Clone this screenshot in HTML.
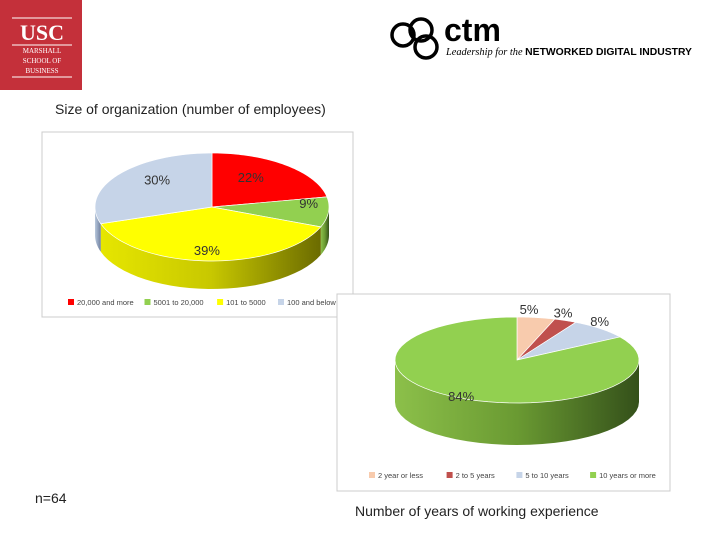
<!DOCTYPE html>
<html><head><meta charset="utf-8"><style>
body{margin:0;width:720px;height:540px;background:#fff;position:relative;overflow:hidden;font-family:"Liberation Sans",sans-serif}
.t{position:absolute;font-size:14px;color:#222}
</style></head><body>
<svg width="720" height="540" style="position:absolute;left:0;top:0">
<defs>
<linearGradient id="gy" x1="0" x2="1"><stop offset="0" stop-color="#e6e600"/><stop offset="0.5" stop-color="#c8c800"/><stop offset="1" stop-color="#6b6b00"/></linearGradient>
<linearGradient id="gg" x1="0" x2="1"><stop offset="0" stop-color="#8cc04a"/><stop offset="0.5" stop-color="#6a9a32"/><stop offset="1" stop-color="#34501a"/></linearGradient>
<linearGradient id="gb" x1="0" x2="1"><stop offset="0" stop-color="#b8c8dc"/><stop offset="1" stop-color="#7080a0"/></linearGradient>
<linearGradient id="gr" x1="0" x2="1"><stop offset="0" stop-color="#d00"/><stop offset="1" stop-color="#800"/></linearGradient>
</defs>
<g>
<rect x="0" y="0" width="82" height="90" fill="#c4303a"/>
<line x1="12" y1="18" x2="72" y2="18" stroke="#fff" stroke-width="1"/>
<text x="42" y="40" font-family="Liberation Serif" font-size="22" font-weight="bold" fill="#fff" text-anchor="middle">USC</text>
<line x1="12" y1="45" x2="72" y2="45" stroke="#fff"/>
<text x="42" y="53" font-family="Liberation Serif" font-size="7" fill="#fff" text-anchor="middle">MARSHALL</text>
<text x="42" y="63" font-family="Liberation Serif" font-size="7" fill="#fff" text-anchor="middle">SCHOOL OF</text>
<text x="42" y="73" font-family="Liberation Serif" font-size="7" fill="#fff" text-anchor="middle">BUSINESS</text>
<line x1="12" y1="77" x2="72" y2="77" stroke="#fff"/>
</g>
<g>
<circle cx="403" cy="35" r="11" fill="none" stroke="#000" stroke-width="3.5"/>
<circle cx="421" cy="30" r="11" fill="none" stroke="#000" stroke-width="3.5"/>
<circle cx="426" cy="47" r="11" fill="none" stroke="#000" stroke-width="3.5"/>
<text x="444" y="41" font-size="32" font-weight="bold" fill="#000">ctm</text>
<text x="446" y="55" font-size="10" font-family="Liberation Serif" font-style="italic" fill="#000" textLength="246" lengthAdjust="spacingAndGlyphs">Leadership for the <tspan font-family="Liberation Sans" font-style="normal" font-weight="bold" font-size="10">NETWORKED DIGITAL INDUSTRY</tspan></text>
</g>
<rect x="42" y="132" width="311" height="185" fill="#fff" stroke="#ccc"/>
<rect x="337" y="294" width="333" height="197" fill="#fff" stroke="#ccc"/>
<g id="c1"></g><g id="c2"></g>
</svg>
<div class="t" style="left:55px;top:101px">Size of organization (number of employees)</div>
<div class="t" style="left:35px;top:490px">n=64</div>
<div class="t" style="left:355px;top:503px">Number of years of working experience</div>
<script>
const cats1=["20,000 and more","5001 to 20,000","101 to 5000","100 and below"];
const vals1=[22,9,39,30];
const cats2=["2 year or less","2 to 5 years","5 to 10 years","10 years or more"];
const vals2=[5,3,8,84];
const NS="http://www.w3.org/2000/svg";
function mk(t,a,p){const e=document.createElementNS(NS,t);for(const k in a)e.setAttribute(k,a[k]);p.appendChild(e);return e;}
function pie(g,vals,cats,o){
  const tot=vals.reduce((a,b)=>a+b,0);
  const P=(th,dy)=>[o.cx+o.rx*Math.sin(th),o.cy-o.ry*Math.cos(th)+(dy||0)];
  let a=0;const sl=[];
  vals.forEach(v=>{const b=a+v/tot*2*Math.PI;sl.push([a,b]);a=b;});
  sl.forEach(([s,e],i)=>{
    const s2=Math.max(s,Math.PI/2),e2=Math.min(e,3*Math.PI/2);
    if(e2>s2){
      let d="";const n=30;
      for(let k=0;k<=n;k++){const p=P(s2+(e2-s2)*k/n);d+=(k?"L":"M")+p[0]+","+p[1];}
      for(let k=n;k>=0;k--){const p=P(s2+(e2-s2)*k/n,o.dep);d+="L"+p[0]+","+p[1];}
      const side=mk("path",{d:d+"Z",fill:o.side[i]},g);
      
      
    }
  });
  sl.forEach(([s,e],i)=>{
    let d="M"+o.cx+","+o.cy;const n=60;
    for(let k=0;k<=n;k++){const p=P(s+(e-s)*k/n);d+="L"+p[0]+","+p[1];}
    const el=mk("path",{d:d+"Z",fill:o.col[i],stroke:"#fff","stroke-width":"0.7"},g);
    
    
    const m=(s+e)/2,p=[o.cx+o.rx*o.fx[i]*Math.sin(m),o.cy-o.ry*o.fy[i]*Math.cos(m)];
    const t=mk("text",{x:p[0],y:p[1]+5,"text-anchor":"middle","font-size":o.fs,fill:"#333"},g);
    t.textContent=vals[i]+"%";
    
    
  });
  let x=o.lx;
  cats.forEach((c,i)=>{
    const r=mk("rect",{x:x,y:o.ly-5,width:6,height:6,fill:o.col[i]},g);
    
    
    const t=mk("text",{x:x+9,y:o.ly+1,"font-size":"7.5",fill:"#444"},g);
    t.textContent=c;
    
    
    x+=9+c.length*3.9+o.gap;
  });
}
pie(document.getElementById("c1"),vals1,cats1,{cx:212,cy:207,rx:117,ry:54,dep:28,
 col:["#ff0000","#92d050","#ffff00","#c6d4e8"],side:["url(#gr)","url(#gg)","url(#gy)","url(#gb)"],
 fx:[0.52,0.83,1.38,0.58],fy:[0.72,-0.8,0.8,0.86],fs:13,lx:68,ly:304,gap:9});
pie(document.getElementById("c2"),vals2,cats2,{cx:517,cy:360,rx:122,ry:43,dep:42,
 col:["#f8cbad","#c0504d","#c6d4e8","#92d050"],side:["#e0b090","#903030","#9aaac0","url(#gg)"],
 fx:[0.63,0.95,0.99,0.95],fy:[1.2,1.2,1.25,0.95],fs:13,lx:369,ly:477,gap:14});
</script>
</body></html>
